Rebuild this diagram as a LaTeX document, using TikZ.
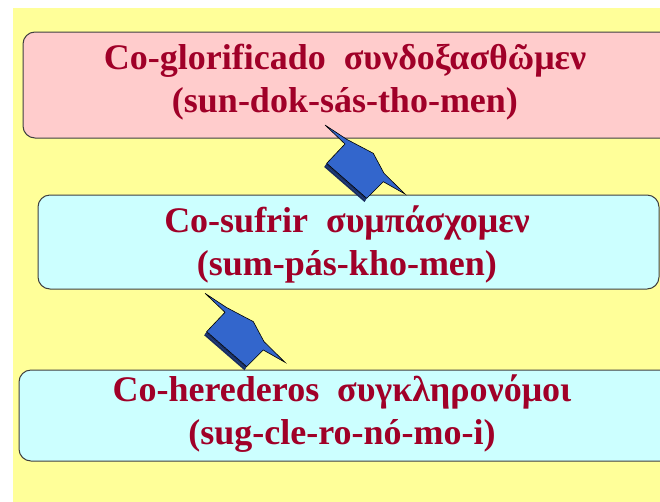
\documentclass[tikz,border=0pt]{standalone}
\usepackage{fontspec}
\setmainfont{Liberation Serif}
\definecolor{bgyellow}{RGB}{255,255,153}
\definecolor{boxpink}{RGB}{255,204,204}
\definecolor{boxcyan}{RGB}{204,255,255}
\definecolor{txtred}{RGB}{160,0,40}
\definecolor{arrblue}{RGB}{51,102,204}
\definecolor{arrdark}{RGB}{25,45,95}
\begin{document}
\begin{tikzpicture}[x=1pt,y=-1pt,
  box/.style={draw=black!75, line width=1pt, rounded corners=12pt},
  lbl/.style={text=txtred, font=\fontsize{36}{43}\selectfont\bfseries, align=center, inner sep=0pt},
  arrowbody/.style={fill=arrblue, draw=black, line width=0.6pt, line join=miter},
  blockarrow/.pic={
    \fill[arrdark] (1.7,38.3) -- (41.7,73.3) -- (39.5,77) -- (-0.8,42) -- cycle;
    \draw[arrblue!70!black, line width=0.5pt] (0.4,40.2) -- (40.6,75.2);
    \draw[arrowbody] (0,0) -- (21.7,14.3) -- (48.3,28.3) -- (59,48.3) -- (80,69)
      -- (58.3,56.7) -- (41.7,73.3) -- (1.7,38.3) -- (20,19) -- cycle;
  }]
\useasboundingbox (0,0) rectangle (660,501);
\clip (0,0) rectangle (660,501);
\fill[bgyellow] (13,8) rectangle (661,502);
\draw[box, fill=boxpink] (23,32) rectangle (680,138);
\draw[box, fill=boxcyan] (38,195) rectangle (659,289);
\draw[box, fill=boxcyan] (19,370) rectangle (680,461);
\node[lbl] (t1) at (345,82) {Co-glorificado\hspace{0.5em}συνδοξασθῶμεν\\(sun-dok-sás-tho-men)};
\node[lbl] (t2) at (347,244) {Co-sufrir\hspace{0.5em}συμπάσχομεν\\(sum-pás-kho-men)};
\node[lbl] (t3) at (342,414) {Co-herederos\hspace{0.5em}συγκληρονόμοι\\(sug-cle-ro-nó-mo-i)};
\pic at (325,125) {blockarrow};
\pic at (205,293.3) {blockarrow};
\end{tikzpicture}
\end{document}
